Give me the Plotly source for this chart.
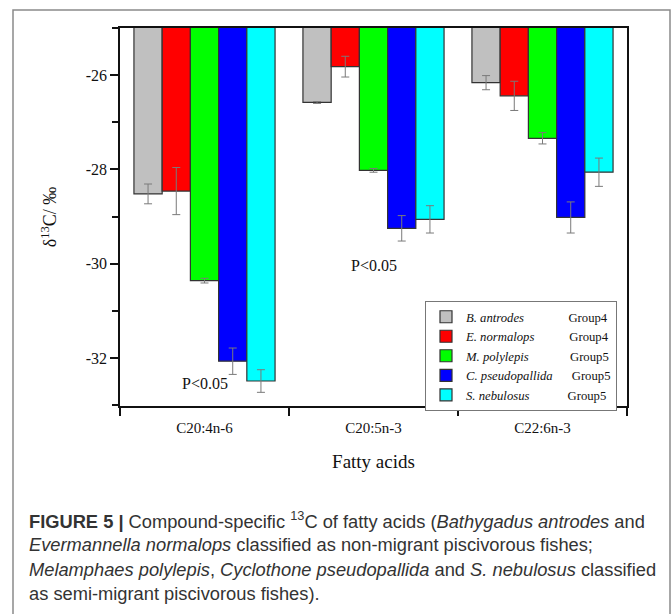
import plotly.graph_objects as go

categories = ["C20:4n-6", "C20:5n-3", "C22:6n-3"]
species = ["B. antrodes", "E. normalops", "M. polylepis", "C. pseudopallida", "S. nebulosus"]
groups = ["Group4", "Group4", "Group5", "Group5", "Group5"]
pads = [14, 11, 13, 6, 12]
colors = ["#C0C0C0", "#FF0000", "#00FF00", "#0000FF", "#00FFFF"]
ytick_vals = [-26, -28, -30, -32]
ytick_text = ["-26", "-28", "-30", "-32"]

b_antrodes = [-28.52, -26.58, -26.16]
e_normalops = [-28.46, -25.82, -26.44]
m_polylepis = [-30.36, -28.02, -27.34]
c_pseudopallida = [-32.07, -29.25, -29.02]
s_nebulosus = [-32.49, -29.06, -28.06]

b_antrodes_err = [0.21, 0.02, 0.15]
e_normalops_err = [0.50, 0.22, 0.31]
m_polylepis_err = [0.05, 0.04, 0.12]
c_pseudopallida_err = [0.28, 0.27, 0.33]
s_nebulosus_err = [0.24, 0.29, 0.30]

values = [b_antrodes, e_normalops, m_polylepis, c_pseudopallida, s_nebulosus]
errors = [b_antrodes_err, e_normalops_err, m_polylepis_err, c_pseudopallida_err, s_nebulosus_err]

W, H = 672, 614
L, R, T, B = 120, 45, 28, 208
PW, PH = W - L - R, H - T - B

def px(x):
    return (x - L) / PW

def py(y):
    return (H - B - y) / PH

serif = "Liberation Serif"
fig = go.Figure()
xpos = list(range(len(categories)))
for name, grp, pad, col, vals, errs in zip(species, groups, pads, colors, values, errors):
    fig.add_trace(go.Bar(
        x=xpos, y=vals,
        name="<i>" + name + "</i>" + "\u00a0" * pad + grp,
        marker=dict(color=col, line=dict(color="#333333", width=1.2)),
        error_y=dict(type="data", array=errs, color="#7a7a7a", thickness=1, width=4),
    ))

fig.add_annotation(x=0, y=-32.55, text="P<0.05", showarrow=False,
                   font=dict(family=serif, size=16, color="#111"))
fig.add_annotation(x=1, y=-30.03, text="P<0.05", showarrow=False,
                   font=dict(family=serif, size=16, color="#111"))

caption = [
    "<b>FIGURE 5 |</b> Compound-specific <sup>13</sup>C of fatty acids (<i>Bathygadus antrodes</i> and",
    "<i>Evermannella normalops</i> classified as non-migrant piscivorous fishes;",
    "<i>Melamphaes polylepis</i>, <i>Cyclothone pseudopallida</i> and <i>S. nebulosus</i> classified",
    "as semi-migrant piscivorous fishes).",
]
for i, line in enumerate(caption):
    fig.add_annotation(xref="paper", yref="paper", x=px(27), y=py(520 + 24.5 * i),
                       xanchor="left", yanchor="middle", text=line, showarrow=False,
                       font=dict(family="Liberation Sans", size=18.3, color="#333333"))

fig.add_shape(type="path", xref="paper", yref="paper",
              path=f"M {px(13)} {py(620)} L {px(13)} {py(10)} L {px(670)} {py(10)} L {px(670)} {py(620)}",
              line=dict(color="#8a8a8a", width=1.5))

fig.update_layout(
    width=W, height=H,
    margin=dict(l=L, r=R, t=T, b=B, pad=0),
    paper_bgcolor="white", plot_bgcolor="white",
    barmode="group", bargap=0.165, bargroupgap=0,
    font=dict(family=serif, size=15, color="#111"),
    showlegend=True,
    legend=dict(x=px(425), y=py(301), xanchor="left", yanchor="top",
                bordercolor="#777", borderwidth=1, bgcolor="white",
                font=dict(family=serif, size=12.7, color="#111"),
                tracegroupgap=0, itemwidth=30),
    xaxis=dict(range=[-0.5, 2.5], tickvals=xpos, ticktext=categories, ticks="",
               ticklabelstandoff=7,
               showline=True, linecolor="#111", linewidth=1.5, mirror=True,
               showgrid=False, zeroline=False,
               tickfont=dict(family=serif, size=15),
               minor=dict(tickvals=[-0.5, 0.5, 1.5, 2.5], ticks="outside", ticklen=8,
                          tickcolor="#111", tickwidth=1.5, showgrid=False),
               title=dict(text="Fatty acids", font=dict(family=serif, size=19), standoff=20)),
    yaxis=dict(range=[-33.02, -25.0], tickvals=ytick_vals, ticktext=ytick_text, ticks="outside",
               ticklen=8, tickwidth=1.5, tickcolor="#111",
               showline=True, linecolor="#111", linewidth=1.5, mirror=True,
               showgrid=False, zeroline=False,
               tickfont=dict(family=serif, size=16),
               minor=dict(dtick=1, ticks="outside", ticklen=6, tickcolor="#111", tickwidth=1.5,
                          showgrid=False),
               title=dict(text="δ<sup>13</sup>C/ ‰", font=dict(family=serif, size=18), standoff=24)),
)

fig.write_html("out.html")
